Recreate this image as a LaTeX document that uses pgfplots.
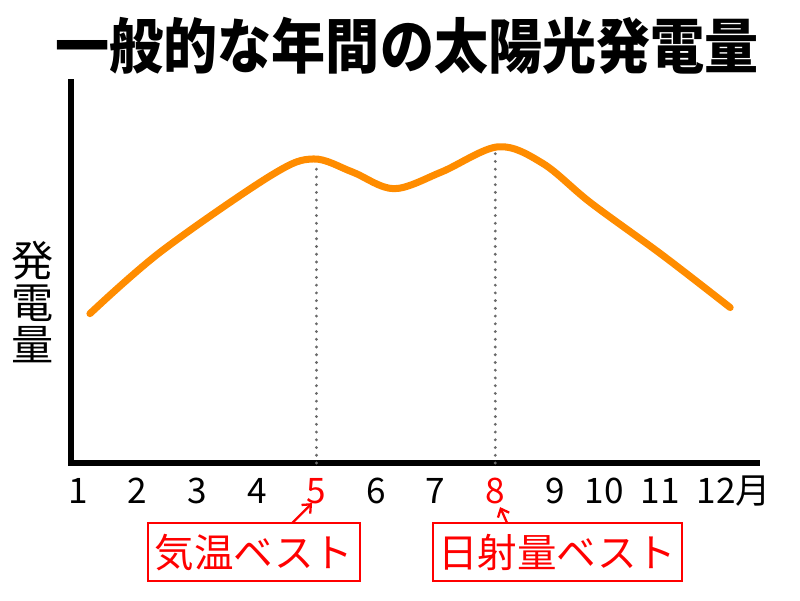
\documentclass[border=0pt]{standalone}
\usepackage{fontspec}
\setmainfont{Noto Sans CJK JP}
\newfontfamily\titlefont{Noto Sans CJK JP Black}
\usepackage{pgfplots}
\pgfplotsset{compat=1.18}
\usetikzlibrary{arrows.meta}
\definecolor{curve}{RGB}{255,140,0}
\definecolor{dotgray}{RGB}{105,105,105}
\begin{document}
\begin{tikzpicture}
\path[use as bounding box] (0,0) rectangle (16cm,12cm);
\begin{axis}[
    at={(1.42cm,2.74cm)}, anchor=south west,
    scale only axis,
    width=13.72cm, height=7.62cm,
    xmin=0.8826, xmax=12.39,
    ymin=0, ymax=100,
    axis x line*=bottom, axis y line*=left,
    axis line style={line width=3.2pt, line cap=rect},
    ytick=\empty,
    major tick length=0pt,
    xtick={1,2,3,4,5,6,7,8,9,9.826,10.765,11.705},
    xticklabels={1,2,3,4,\textcolor{red}{5},6,7,\textcolor{red}{8},9,10,11,12\rlap{月}},
    xticklabel style={anchor=base, yshift=-0.8cm, font=\fontsize{20}{20}\selectfont},
    clip=false,
]
% dotted guides at the two peaks
\addplot[dotgray, line width=1.8pt, line cap=round, dash pattern=on 0pt off 4.4pt]
    coordinates {(5,0) (5,79)};
\addplot[dotgray, line width=1.8pt, line cap=round, dash pattern=on 0pt off 4.4pt]
    coordinates {(8,0) (8,82)};
% generation curve
\addplot[curve, line width=4pt, line cap=round, smooth, tension=0.55] coordinates {
    (1.20,39.2)
    (2.40,55.6)
    (4.25,75.6)
    (4.95,79.8)
    (5.60,76.4)
    (6.30,72.0)
    (7.10,76.4)
    (8.05,83.0)
    (8.80,78.6)
    (9.60,68.3)
    (10.80,54.6)
    (11.94,40.8)
};
\end{axis}
\begin{scope}[x=0.02cm, y=-0.02cm, yshift=12cm]
\node at (407,46) {\scalebox{0.905}[1]{\fontsize{34}{34}\selectfont\titlefont 一般的な年間の太陽光発電量}};
\node[align=center, font=\fontsize{24}{23.8}\selectfont, inner sep=0pt] at (33,302) {発\\電\\量};
\draw[red, line width=1.3pt] (148,523) rectangle (360,581);
\node[red, font=\fontsize{22.5}{22.5}\selectfont] at (254,552) {気温ベスト};
\draw[red, line width=1.3pt, -{Straight Barb[length=4pt,width=7pt]}] (292,523) -- (312,503);
\draw[red, line width=1.3pt] (433,523) rectangle (682,581);
\node[red, font=\fontsize{22.5}{22.5}\selectfont] at (557,552) {日射量ベスト};
\draw[red, line width=1.3pt, -{Straight Barb[length=4pt,width=7pt]}] (507,523) -- (500,507);
\end{scope}
\end{tikzpicture}
\end{document}
